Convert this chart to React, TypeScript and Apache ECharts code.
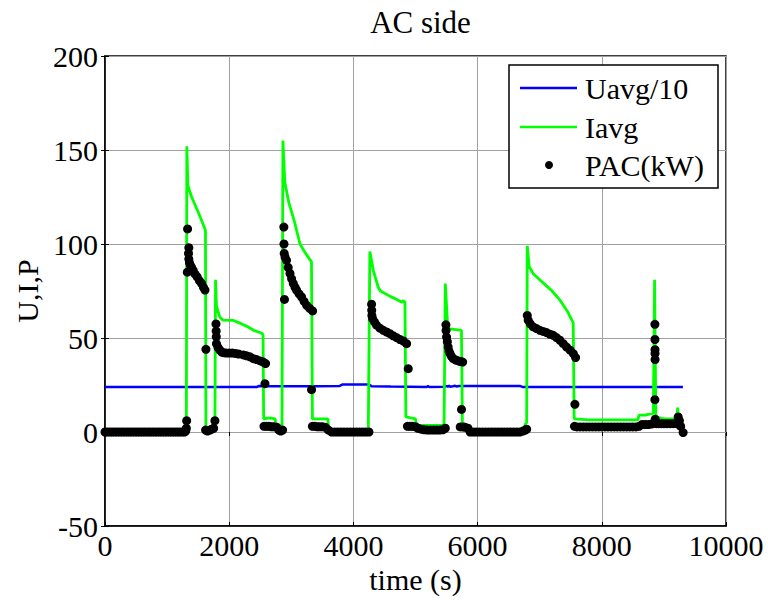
import React, { useEffect, useRef } from "react";
import * as echarts from "echarts";

const titleText = "AC side";
const xName = "time (s)";
const yName = "U,I,P";
const seriesNames = ["Uavg/10", "Iavg", "PAC(kW)"];
const xMin = 0;
const xMax = 10000;
const xInterval = 2000;
const yMin = -50;
const yMax = 200;
const yInterval = 50;

const uavg: [number, number][] = [
  [0, 24], [500, 24], [1000, 24], [1500, 24], [2000, 24], [2450, 24], [2480, 24.5], [2600, 24.4],
  [3000, 24.4], [3400, 24.4], [3780, 24.5], [3820, 25.2], [4000, 25.3], [4250, 25.3], [4290, 24.4],
  [4600, 24.2], [4900, 24.1], [5180, 24], [5200, 24.5], [5220, 24], [5470, 24.1], [5490, 24.5],
  [5520, 24.1], [5540, 24.6], [5560, 24.1], [5600, 24.3], [5640, 24.6], [5660, 24.2], [5700, 24.5],
  [6000, 24.5], [6500, 24.5], [6680, 24.5], [6720, 24], [7000, 24], [8000, 24], [9000, 24], [9306, 24],
];

const iavg: [number, number][] = [
  [0, 2], [30, 0.5], [200, 0.3], [600, 0.3], [1000, 0.3], [1300, 0.5], [1310, 2],
  [1318, 152], [1335, 131], [1395, 125], [1500, 117], [1610, 108], [1618, 107],
  [1625, 1], [1700, 1], [1770, 2],
  [1780, 81], [1795, 67], [1850, 61], [1900, 59.5], [2060, 59.4], [2200, 57.5], [2300, 56], [2400, 54],
  [2530, 52.5], [2545, 51.5],
  [2555, 7], [2650, 7.5], [2740, 7], [2760, 2], [2850, 2],
  [2865, 155], [2895, 133], [2960, 122], [3050, 112], [3140, 100], [3230, 95], [3325, 90.5],
  [3340, 7], [3450, 7], [3590, 7], [3600, 1], [3900, 0.5], [4240, 0.5],
  [4265, 96], [4320, 86], [4400, 77], [4435, 75], [4600, 72], [4700, 70.5], [4780, 69], [4800, 70], [4830, 69],
  [4845, 8], [5000, 7], [5010, 3.5], [5460, 3.5],
  [5480, 79], [5520, 55], [5740, 54], [5755, 5], [5850, 3], [5900, 0.3], [6300, 0.3], [6750, 0.3],
  [6765, 4], [6790, 5],
  [6800, 99], [6830, 88], [6900, 84], [7000, 81], [7100, 78], [7200, 75], [7330, 70], [7450, 64], [7540, 58],
  [7555, 7], [7800, 6.5], [8200, 6.5], [8580, 6.5], [8600, 9], [8700, 9], [8830, 10],
  [8850, 81], [8870, 8], [9000, 7], [9210, 7], [9220, 13], [9240, 7], [9280, 6], [9300, 0],
];

const pac: [number, number][] = [
  [0, 0], [40, 0], [80, 0], [120, 0], [160, 0], [200, 0], [240, 0], [280, 0], [320, 0], [360, 0],
  [400, 0], [440, 0], [480, 0], [520, 0], [560, 0], [600, 0], [640, 0], [680, 0], [720, 0], [760, 0],
  [800, 0], [840, 0], [880, 0], [920, 0], [960, 0], [1000, 0], [1040, 0], [1080, 0], [1120, 0],
  [1160, 0], [1200, 0], [1240, 0], [1280, 0], [1300, 0.5], [1310, 2], [1315, 6],
  [1325, 85], [1330, 108], [1350, 98], [1345, 95], [1350, 92], [1360, 90], [1375, 88.5], [1395, 87.5],
  [1420, 86], [1450, 84], [1485, 82.5], [1520, 80.5], [1555, 79], [1585, 77], [1610, 75.5],
  [1625, 44], [1620, 1], [1650, 0.5], [1690, 1], [1720, 1.5], [1750, 2], [1770, 6],
  [1787, 57.5], [1790, 53.7], [1792, 50.6], [1795, 47], [1820, 45], [1851, 43.5], [1880, 42.5],
  [1905, 42.2], [1950, 42], [2000, 42], [2050, 42], [2100, 41.8], [2150, 41.5], [2227, 41],
  [2280, 40.5], [2335, 40], [2390, 39], [2442, 38.5], [2500, 37.8], [2549, 37.2], [2586, 36.4],
  [2576, 25.7], [2560, 3], [2600, 3], [2640, 3], [2680, 2.8], [2720, 2.8], [2770, 2.5], [2800, 1],
  [2830, 0.5], [2860, 1],
  [2880, 109], [2882, 100], [2886, 95], [2890, 70.5], [2900, 93], [2923, 91.3], [2950, 87.5],
  [2979, 84.3], [3005, 81.5], [3032, 79], [3060, 77], [3086, 75.4], [3125, 73.5], [3166, 71.8],
  [3205, 69.5], [3247, 67.4], [3295, 65.8], [3343, 64.4],
  [3326, 22.5], [3340, 3], [3380, 3], [3420, 2.8], [3460, 2.8], [3500, 2.8], [3550, 2.5], [3597, 1],
  [3650, 0], [3700, 0], [3750, 0], [3800, 0], [3850, 0], [3900, 0], [3950, 0], [4000, 0], [4050, 0],
  [4100, 0], [4150, 0], [4200, 0], [4250, 0],
  [4293, 68], [4295, 64.7], [4298, 62], [4309, 60.3], [4340, 58.5], [4373, 56.8], [4425, 55.3],
  [4481, 54.1], [4535, 53.2], [4588, 52.3], [4640, 51.2], [4696, 50.2], [4750, 49.2], [4803, 48.4],
  [4857, 47],
  [4883, 33.7], [4870, 3], [4910, 3], [4950, 3], [5000, 2.8], [5040, 2], [5090, 1.5], [5140, 1.2],
  [5190, 1], [5240, 1], [5290, 1], [5340, 1], [5390, 1], [5440, 1.2], [5480, 2],
  [5490, 57], [5492, 54], [5500, 50.5], [5513, 48], [5526, 45.2], [5540, 43], [5555, 41.7],
  [5580, 40.2], [5608, 39], [5650, 38.3], [5689, 37.8], [5725, 37.5], [5759, 37.2],
  [5741, 12], [5720, 2.7], [5760, 2.7], [5800, 2.5], [5845, 2], [5880, 0], [5930, 0], [5980, 0],
  [6030, 0], [6080, 0], [6130, 0], [6180, 0], [6230, 0], [6280, 0], [6330, 0], [6380, 0], [6430, 0],
  [6480, 0], [6530, 0], [6580, 0], [6630, 0], [6680, 0], [6730, 0.5], [6770, 1], [6790, 1.5],
  [6800, 62], [6815, 59.4], [6850, 57.5], [6896, 55.9], [6950, 55], [7003, 54.1], [7055, 53.5],
  [7111, 52.9], [7165, 52], [7218, 51.4], [7270, 50.2], [7326, 48.8], [7380, 47], [7433, 45.2],
  [7490, 43.5], [7541, 41.7], [7578, 39.6],
  [7567, 14.7], [7560, 3], [7600, 2.7], [7650, 2.7], [7700, 2.7], [7750, 2.7], [7800, 2.7],
  [7850, 2.7], [7900, 2.7], [7950, 2.7], [8000, 2.7], [8050, 2.7], [8100, 2.7], [8150, 2.7],
  [8200, 2.7], [8250, 2.7], [8300, 2.7], [8350, 2.7], [8400, 2.7], [8450, 2.7], [8500, 2.7],
  [8550, 2.7], [8600, 3], [8650, 4], [8700, 4], [8750, 4], [8800, 4.2], [8830, 4.5],
  [8855, 57.3], [8856, 49.2], [8857, 43.8], [8857, 41.7], [8858, 38.5], [8855, 17.2], [8860, 6.8],
  [8880, 4.4], [8920, 4.4], [8960, 4.4], [9000, 4.4], [9050, 4.4], [9100, 4.4], [9150, 4.4],
  [9210, 4.4], [9230, 8], [9250, 6], [9270, 3], [9310, -0.3],
];

const FONT = "'Liberation Serif', 'Times New Roman', serif";
const FS = 30;

export default function App() {
  const ref = useRef<HTMLDivElement>(null);
  useEffect(() => {
    document.body.style.margin = "0";
    if (!ref.current) return;
    const chart = echarts.init(ref.current, null, { renderer: "svg" });
    const gl = 105, gt = 56, gw = 621, gh = 470;
    const legX = 509, legY = 65, legW = 209, legH = 123;
    const rowY = [88, 127, 165];
    chart.setOption({
      animation: false,
      backgroundColor: "#fff",
      title: {
        text: titleText,
        left: gl + gw / 2,
        top: 2,
        textAlign: "center",
        textStyle: { fontFamily: FONT, fontSize: 31, fontWeight: "normal", color: "#000" },
      },
      grid: {
        left: gl, top: gt, width: gw, height: gh,
        show: true, borderColor: "#000", borderWidth: 1.5, backgroundColor: "#fff",
      },
      xAxis: [
        {
          type: "value", min: xMin, max: xMax, interval: xInterval,
          name: xName, nameLocation: "middle", nameGap: 38,
          nameTextStyle: { fontFamily: FONT, fontSize: FS, color: "#000" },
          axisLine: { show: true, onZero: false, lineStyle: { color: "#000", width: 1.5 } },
          axisTick: { show: true, inside: true, length: 4, lineStyle: { color: "#000" } },
          axisLabel: { fontFamily: FONT, fontSize: FS, color: "#000", margin: 4, formatter: (v: number) => String(v) },
          splitLine: { show: true, lineStyle: { color: "#a0a0a0", width: 1 } },
        },
        {
          type: "value", min: xMin, max: xMax, interval: xInterval, position: "top",
          axisLine: { show: false },
          axisTick: { show: true, inside: true, length: 4, lineStyle: { color: "#000" } },
          axisLabel: { show: false },
          splitLine: { show: false },
        },
      ],
      yAxis: [
        {
          type: "value", min: yMin, max: yMax, interval: yInterval,
          name: yName, nameLocation: "middle", nameGap: 62, nameRotate: 90,
          nameTextStyle: { fontFamily: FONT, fontSize: FS, color: "#000" },
          axisLine: { show: true, onZero: false, lineStyle: { color: "#000", width: 1.5 } },
          axisTick: { show: true, inside: true, length: 4, lineStyle: { color: "#000" } },
          axisLabel: { fontFamily: FONT, fontSize: FS, color: "#000", margin: 7, formatter: (v: number) => String(v) },
          splitLine: { show: true, lineStyle: { color: "#a0a0a0", width: 1 } },
        },
        {
          type: "value", min: yMin, max: yMax, interval: yInterval, position: "right",
          axisLine: { show: false },
          axisTick: { show: true, inside: true, length: 4, lineStyle: { color: "#000" } },
          axisLabel: { show: false },
          splitLine: { show: false },
        },
      ],
      series: [
        {
          name: seriesNames[0], type: "line", data: uavg, showSymbol: false, z: 2,
          lineStyle: { color: "#0000ff", width: 2.5 },
        },
        {
          name: seriesNames[1], type: "line", data: iavg, showSymbol: false, z: 3,
          lineStyle: { color: "#00ff00", width: 2.8 },
        },
        {
          name: seriesNames[2], type: "scatter", data: pac, symbol: "circle", symbolSize: 9, z: 4,
          itemStyle: { color: "#000", opacity: 1 },
        },
      ],
      graphic: [
        {
          type: "rect", z: 100,
          shape: { x: legX, y: legY, width: legW, height: legH },
          style: { fill: "#fff", stroke: "#000", lineWidth: 1.5 },
        },
        {
          type: "line", z: 101,
          shape: { x1: 520, y1: rowY[0], x2: 577, y2: rowY[0] },
          style: { stroke: "#0000ff", lineWidth: 2.5 },
        },
        {
          type: "line", z: 101,
          shape: { x1: 520, y1: rowY[1], x2: 577, y2: rowY[1] },
          style: { stroke: "#00ff00", lineWidth: 2.5 },
        },
        {
          type: "circle", z: 101,
          shape: { cx: 549, cy: rowY[2], r: 4 },
          style: { fill: "#000" },
        },
        ...seriesNames.map((n, i) => ({
          type: "text", z: 101, x: 585, y: rowY[i],
          style: { text: n, font: `${FS}px ${FONT}`, fill: "#000", textVerticalAlign: "middle", verticalAlign: "middle" },
        })),
      ],
    });
    return () => chart.dispose();
  }, []);
  return <div ref={ref} style={{ width: 768, height: 601 }} />;
}
